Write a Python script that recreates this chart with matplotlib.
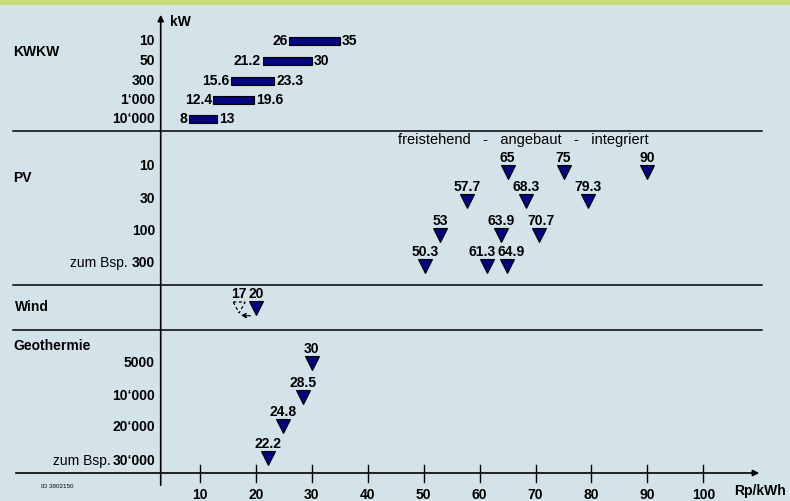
import numpy as np
import matplotlib
matplotlib.use("Agg")
import matplotlib.pyplot as plt
from matplotlib.patches import Polygon

plt.rcParams['font.family'] = ['Liberation Sans', 'DejaVu Sans']

# data: Rp/kWh by plant size (kW)
kwkw_sizes = ['10', '50', '300', '1\u2018000', '10\u2018000']
kwkw_low = [26, 21.2, 15.6, 12.4, 8]
kwkw_high = [35, 30, 23.3, 19.6, 13]

pv_sizes = ['10', '30', '100', '300']
pv_header = 'freistehend   -   angebaut   -   integriert'
pv_values = [[65, 75, 90],
             [57.7, 68.3, 79.3],
             [53, 63.9, 70.7],
             [50.3, 61.3, 64.9]]

wind_old = 17
wind_new = 20

geo_sizes = ['5000', '10\u2018000', '20\u2018000', '30\u2018000']
geo_values = [30, 28.5, 24.8, 22.2]

x_ticks = [10, 20, 30, 40, 50, 60, 70, 80, 90, 100]

# layout (vertical positions in pixels from top)
W, H = 790, 501
PXU = 5.592          # pixels per Rp/kWh
X0 = 144.1           # pixel of value 0
kwkw_y = [41, 61, 80.5, 99.5, 119]
pv_label_y = [166.5, 199, 231, 263]
pv_mark_y = [172, 201, 235, 266]
pv_nudge = [[0, 0, 0], [0, 0, 0], [0, 0, 2], [0, -5, 4]]   # label shifts in px
geo_label_y = [362.7, 396, 426.7, 461]
geo_mark_y = [363, 396.7, 426, 458]
wind_y = 308

navy = '#05057e'
bg = '#d4e3e9'


def px(xpix):
    return (xpix - X0) / PXU


fig = plt.figure(figsize=(W / 100, H / 100), dpi=100, facecolor=bg)
ax = fig.add_axes([0, 0, 1, 1])
ax.set_facecolor(bg)
ax.set_xlim(px(0), px(W))
ax.set_ylim(H, 0)
ax.axis('off')

# green band on top
ax.axhspan(0, 5, color='#c6de7a', lw=0)

fs = 10
bold = dict(fontsize=fs, fontweight='bold', color='black')

# axes with arrows
axis_x = px(160.7)
ax.annotate('', xy=(px(762), 473), xytext=(px(13), 473),
            arrowprops=dict(arrowstyle='-|>', lw=1.2, color='black', mutation_scale=9))
ax.annotate('', xy=(axis_x, 12), xytext=(axis_x, 488),
            arrowprops=dict(arrowstyle='-|>', lw=1.2, color='black', mutation_scale=9))
for yy in [131, 284.5, 330]:
    ax.plot([px(13), px(762)], [yy, yy], color='black', lw=1.1)

for t in x_ticks:
    ax.plot([t, t], [465, 482], color='black', lw=1)
    ax.text(t, 495, str(t), ha='center', va='center', **bold)
ax.text(px(734), 491, 'Rp/kWh', ha='left', va='center', **bold)
ax.text(px(170), 22, 'kW', ha='left', va='center', **bold)
ax.text(px(57), 486.5, 'ID 3802150', ha='center', va='center', fontsize=4.5)

label_x = px(155)


def size_label(y, s, example=False, gap=1):
    t = ax.text(label_x, y, s, ha='right', va='center', **bold)
    if example:
        ax.annotate('zum Bsp.', xy=(0, 0.5), xycoords=t, xytext=(-gap, 0),
                    textcoords='offset points', ha='right', va='center', fontsize=fs)


# KWKW
ax.text(px(13), 52, 'KWKW', ha='left', va='center', **bold)
ax.barh(kwkw_y, np.array(kwkw_high) - np.array(kwkw_low), left=kwkw_low,
        height=8, color=navy, edgecolor='black', lw=0.8)
for y, lo, hi, s in zip(kwkw_y, kwkw_low, kwkw_high, kwkw_sizes):
    size_label(y, s)
    ax.text(lo - 0.3, y, f'{lo:g}', ha='right', va='center', **bold)
    ax.text(hi + 0.4, y, f'{hi:g}', ha='left', va='center', **bold)

# PV
ax.text(px(13), 178, 'PV', ha='left', va='center', **bold)
ax.text(px(398), 140, pv_header, ha='left', va='center', fontsize=10.5)
for i, (yl, ym, s, vals) in enumerate(zip(pv_label_y, pv_mark_y, pv_sizes, pv_values)):
    size_label(yl, s, example=(i == len(pv_sizes) - 1), gap=3)
    ax.plot(vals, [ym] * len(vals), 'v', ms=10, mfc=navy, mec='black', mew=0.8)
    for v, dx in zip(vals, pv_nudge[i]):
        ax.text(v + dx / PXU, ym - 14, f'{v:g}', ha='center', va='center', **bold)

# Wind
ax.text(px(15), 307, 'Wind', ha='left', va='center', **bold)
ax.plot([wind_new], [wind_y], 'v', ms=10, mfc=navy, mec='black', mew=0.8)
hw = 6 / PXU
ax.add_patch(Polygon([(wind_old - hw, wind_y - 6), (wind_old + hw, wind_y - 6),
                      (wind_old, wind_y + 5)], closed=True, fill=False,
                     ls=(0, (2.5, 2)), lw=0.9, ec='black'))
ax.annotate('', xy=(wind_old - 0.2, 315), xytext=(wind_new - 0.5, 316),
            arrowprops=dict(arrowstyle='-|>', lw=0.9, ls=(0, (2.5, 2)), color='black',
                            mutation_scale=7))
ax.text(wind_old, wind_y - 14, f'{wind_old:g}', ha='center', va='center', **bold)
ax.text(wind_new, wind_y - 14, f'{wind_new:g}', ha='center', va='center', **bold)

# Geothermie
ax.text(px(13), 346.5, 'Geothermie', ha='left', va='center', **bold)
for i, (yl, ym, s, v) in enumerate(zip(geo_label_y, geo_mark_y, geo_sizes, geo_values)):
    size_label(yl, s, example=(i == len(geo_sizes) - 1))
    ax.plot([v], [ym], 'v', ms=10, mfc=navy, mec='black', mew=0.8)
    ax.text(v, ym - 14, f'{v:g}', ha='center', va='center', **bold)

fig.savefig('out.png', dpi=100, facecolor=bg)
